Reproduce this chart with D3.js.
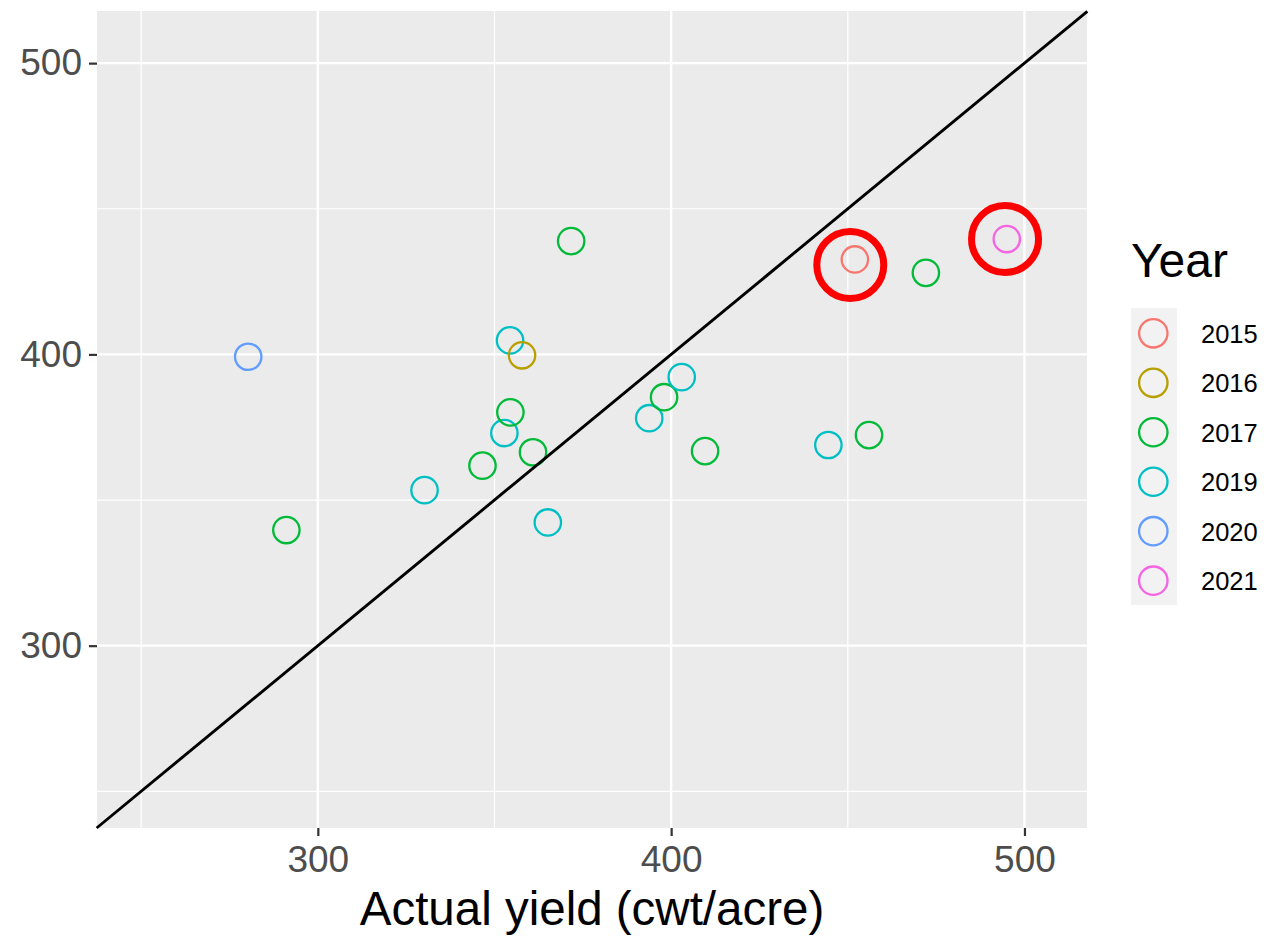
<!DOCTYPE html>
<html>
<head>
<meta charset="utf-8">
<script src="https://cdn.jsdelivr.net/npm/d3@7"></script>
<style>
  body { margin: 0; background: #fff; }
  text { font-family: "Liberation Sans", Arial, sans-serif; }
</style>
</head>
<body>
<svg id="chart" width="1273" height="938"></svg>
<script>
// data
var years     = [2020, 2017, 2019, 2017, 2019, 2017, 2019, 2016, 2017, 2019,
                 2017, 2019, 2017, 2019, 2017, 2019, 2017, 2015, 2017, 2021];
var actual    = [280.3, 291.1, 330.2, 346.6, 352.8, 354.5, 354.4, 357.8, 360.9, 365.1,
                 371.7, 393.8, 398.0, 403.0, 409.6, 444.5, 456.0, 452.0, 472.1, 495.0];
var predicted = [399.2, 339.7, 353.4, 361.8, 373.0, 380.1, 404.8, 399.7, 366.4, 342.3,
                 438.9, 378.1, 385.3, 392.2, 366.8, 368.9, 372.3, 432.6, 428.0, 439.6];

var legendYears = [2015, 2016, 2017, 2019, 2020, 2021];
var yearColors  = ["#F8766D", "#B79F00", "#00BA38", "#00BFC4", "#619CFF", "#F564E3"];

var ticks      = [300, 400, 500];
var minorTicks = [250, 350, 450];

// red highlight rings (actual, predicted)
var ringX = [450.7, 494.5];
var ringY = [430.7, 439.6];

var svg = d3.select("#chart");

var pLeft = 97, pRight = 1087, pTop = 11, pBottom = 828;

var x = d3.scaleLinear().domain([237.5, 517.7]).range([pLeft, pRight]);
var y = d3.scaleLinear().domain([237.4, 517.9]).range([pBottom, pTop]);
var color = d3.scaleOrdinal().domain(legendYears).range(yearColors);

// panel
svg.append("rect")
   .attr("x", pLeft).attr("y", pTop)
   .attr("width", pRight - pLeft).attr("height", pBottom - pTop)
   .attr("fill", "#EBEBEB");

// grid
svg.selectAll(".minor-x").data(minorTicks).enter().append("line")
   .attr("x1", function(d) { return x(d); }).attr("x2", function(d) { return x(d); })
   .attr("y1", pTop).attr("y2", pBottom)
   .attr("stroke", "#fff").attr("stroke-width", 1.2);
svg.selectAll(".minor-y").data(minorTicks).enter().append("line")
   .attr("y1", function(d) { return y(d); }).attr("y2", function(d) { return y(d); })
   .attr("x1", pLeft).attr("x2", pRight)
   .attr("stroke", "#fff").attr("stroke-width", 1.2);
svg.selectAll(".major-x").data(ticks).enter().append("line")
   .attr("x1", function(d) { return x(d); }).attr("x2", function(d) { return x(d); })
   .attr("y1", pTop).attr("y2", pBottom)
   .attr("stroke", "#fff").attr("stroke-width", 2.4);
svg.selectAll(".major-y").data(ticks).enter().append("line")
   .attr("y1", function(d) { return y(d); }).attr("y2", function(d) { return y(d); })
   .attr("x1", pLeft).attr("x2", pRight)
   .attr("stroke", "#fff").attr("stroke-width", 2.4);

// points
var points = years.map(function(yr, i) {
    return { year: yr, actual: actual[i], predicted: predicted[i] };
});
svg.selectAll(".pt").data(points).enter().append("circle")
   .attr("cx", function(d) { return x(d.actual); })
   .attr("cy", function(d) { return y(d.predicted); })
   .attr("r", 13.2)
   .attr("fill", "none")
   .attr("stroke", function(d) { return color(d.year); })
   .attr("stroke-width", 2.3);

// 1:1 line
var lo = 237.4, hi = 517.8;
svg.append("line")
   .attr("x1", x(lo)).attr("y1", y(lo))
   .attr("x2", x(hi)).attr("y2", y(hi))
   .attr("stroke", "#000").attr("stroke-width", 2.9);

// highlight rings
svg.selectAll(".ring").data(ringX).enter().append("circle")
   .attr("cx", function(d) { return x(d); })
   .attr("cy", function(d, i) { return y(ringY[i]); })
   .attr("r", 33.5)
   .attr("fill", "none")
   .attr("stroke", "#FF0000")
   .attr("stroke-width", 7);

// axes
var xAxis = svg.append("g")
   .attr("transform", "translate(0," + pBottom + ")")
   .call(d3.axisBottom(x).tickValues(ticks).tickSize(8).tickPadding(10).tickSizeOuter(0));
var yAxis = svg.append("g")
   .attr("transform", "translate(" + pLeft + ",0)")
   .call(d3.axisLeft(y).tickValues(ticks).tickSize(8).tickPadding(7).tickSizeOuter(0));

[xAxis, yAxis].forEach(function(g) {
    g.select(".domain").remove();
    g.selectAll(".tick line").attr("stroke", "#333").attr("stroke-width", 2.2);
    g.selectAll(".tick text")
     .attr("fill", "#4D4D4D")
     .style("font-size", "37px")
     .style("font-family", "'Liberation Sans', Arial, sans-serif");
});

// x title
svg.append("text")
   .attr("x", (pLeft + pRight) / 2)
   .attr("y", 925)
   .attr("text-anchor", "middle")
   .attr("font-size", "47.5px")
   .attr("fill", "#000")
   .text("Actual yield (cwt/acre)");

// legend
svg.append("text")
   .attr("x", 1131)
   .attr("y", 277)
   .attr("font-size", "48px")
   .attr("fill", "#000")
   .text("Year");

svg.append("rect")
   .attr("x", 1131).attr("y", 308)
   .attr("width", 46).attr("height", 297)
   .attr("fill", "#F2F2F2");

var keyY = d3.scalePoint().domain(legendYears).range([333.3, 580.7]);

svg.selectAll(".key").data(legendYears).enter().append("circle")
   .attr("cx", 1153.3)
   .attr("cy", function(d) { return keyY(d); })
   .attr("r", 14.2)
   .attr("fill", "none")
   .attr("stroke", function(d) { return color(d); })
   .attr("stroke-width", 2.3);

svg.selectAll(".key-label").data(legendYears).enter().append("text")
   .attr("x", 1201)
   .attr("y", function(d) { return keyY(d) + 9.5; })
   .attr("font-size", "25.5px")
   .attr("fill", "#000")
   .text(function(d) { return d; });
</script>
</body>
</html>
